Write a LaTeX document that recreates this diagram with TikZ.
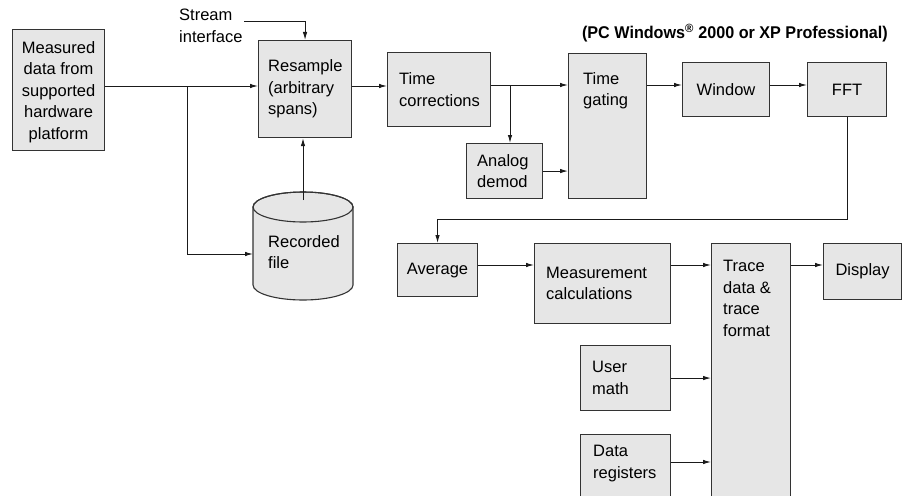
\documentclass[tikz,border=0pt]{standalone}
\usepackage{fontspec}
\setmainfont{Liberation Sans}
\usepackage{graphicx}
\usetikzlibrary{arrows.meta,calc}
\definecolor{boxfill}{HTML}{E6E6E6}
\definecolor{edge}{HTML}{333333}
\definecolor{wire}{HTML}{1A1A1A}
\begin{document}
\begin{tikzpicture}[x=1pt,y=-1pt,
  box/.style={draw=edge, fill=boxfill, line width=1.1pt, inner sep=0pt, anchor=north west},
  txt/.style={inner sep=0pt, align=left, font=\fontsize{16.5pt}{21.5pt}\selectfont},
  ctxt/.style={inner sep=0pt, align=center, font=\fontsize{16.5pt}{21.5pt}\selectfont},
  arr/.style={line width=1pt, draw=wire, -{Latex[length=8pt,width=4.5pt]}},
  ln/.style={line width=1pt, draw=wire}]
\useasboundingbox (0,0) rectangle (904,495);
\clip (0,0) rectangle (904,495);

% boxes
\node[box, minimum width=92pt, minimum height=121pt] (meas) at (12,29) {};
\node[box, minimum width=93pt, minimum height=97pt] (res) at (258,40) {};
\node[box, minimum width=103pt, minimum height=74pt] (tc) at (387,52) {};
\node[box, minimum width=76pt, minimum height=55pt] (an) at (466,143) {};
\node[box, minimum width=78pt, minimum height=145pt] (tg) at (568,53) {};
\node[box, minimum width=87pt, minimum height=54pt] (win) at (682,62) {};
\node[box, minimum width=79pt, minimum height=54pt] (fft) at (807,62) {};
\node[box, minimum width=80pt, minimum height=53pt] (avg) at (397,243) {};
\node[box, minimum width=136pt, minimum height=80pt] (mc) at (534,243) {};
\node[box, minimum width=79pt, minimum height=270pt] (tr) at (711,243) {};
\node[box, minimum width=78pt, minimum height=56pt] (disp) at (823,243) {};
\node[box, minimum width=90pt, minimum height=65pt] (um) at (580,345) {};
\node[box, minimum width=90pt, minimum height=80pt] (dr) at (580,434) {};

% cylinder
\path[draw=edge, fill=boxfill, line width=1.1pt]
  (253,207) -- (253,285) arc[start angle=180, end angle=360, x radius=50pt, y radius=15pt]
  -- (353,207) arc[start angle=0, end angle=180, x radius=50pt, y radius=15pt] -- cycle;
\draw[draw=edge, line width=1.1pt] (303,207) ellipse[x radius=50pt, y radius=15pt];

% texts
\node[ctxt] (tmeas) at ([yshift=-2pt]meas.center) {Measured\\data from\\supported\\hardware\\platform};
\node[txt, anchor=west] (tres) at ([xshift=10pt]res.west) {Resample\\(arbitrary\\spans)};
\node[txt, anchor=west] (ttc) at ([xshift=12pt]tc.west) {Time\\corrections};
\node[txt, anchor=west] (tan) at ([xshift=11pt]an.west) {Analog\\demod};
\node[txt, anchor=north west] (ttg) at ([shift={(15,19)}]tg.north west) {Time\\gating};
\node[ctxt] (twin) at (win.center) {Window};
\node[ctxt] (tfft) at (fft.center) {FFT};
\node[ctxt] (tavg) at (avg.center) {Average};
\node[txt, anchor=west] (tmc) at ([xshift=12pt]mc.west) {Measurement\\calculations};
\node[txt, anchor=north west] (ttr) at ([shift={(12,17)}]tr.north west) {Trace\\data \&\\trace\\format};
\node[ctxt] (tdisp) at (disp.center) {Display};
\node[txt, anchor=west] (tum) at ([xshift=12pt]um.west) {User\\math};
\node[txt, anchor=north west] (tdr) at ([shift={(13,11)}]dr.north west) {Data\\registers};
\node[txt, anchor=west] (trec) at (268,252) {Recorded\\file};
\node[txt, anchor=west] (stream) at (179,26) {Stream\\interface};
\node[anchor=east, inner sep=0pt, font=\bfseries\fontsize{17pt}{20pt}\selectfont] (hdr) at (888,33)
  {\scalebox{0.95}[1]{(PC Windows\textsuperscript{\textregistered} 2000 or XP Professional)}};

% coordinates
\coordinate (j1) at (187,86);
\coordinate (j2) at (510,85);
\coordinate (sin) at (244,22);
\coordinate (ctop) at (303,200);
\coordinate (cin) at (253,254);
\coordinate (turn) at (0,219);
\coordinate (row) at (0,265);
\coordinate (drrow) at (0,462);

% connectors
\draw[ln] (meas.east |- j1) -- (j1);
\draw[arr] (j1) -- (j1 -| res.west);
\draw[arr] (j1) |- (cin);
\draw[arr] (sin) -| (res.north);
\draw[arr] (ctop) -- (ctop |- res.south);
\draw[arr] (res.east |- j1) -- (tc.west |- j1);
\draw[ln] (tc.east |- j2) -- (j2);
\draw[arr] (j2) -- (j2 -| tg.west);
\draw[arr] (j2) -- (j2 |- an.north);
\draw[arr] (an.east) -- (an.east -| tg.west);
\draw[arr] (tg.east |- j2) -- (win.west |- j2);
\draw[arr] (win.east |- j2) -- (fft.west |- j2);
\draw[arr] (fft.south) -- (fft.south |- turn) -- (avg.north |- turn) -- (avg.north);
\draw[arr] (avg.east |- row) -- (mc.west |- row);
\draw[arr] (mc.east |- row) -- (tr.west |- row);
\draw[arr] (tr.east |- row) -- (disp.west |- row);
\draw[arr] (um.east) -- (um.east -| tr.west);
\draw[arr] (dr.east |- drrow) -- (tr.west |- drrow);
\end{tikzpicture}
\end{document}
